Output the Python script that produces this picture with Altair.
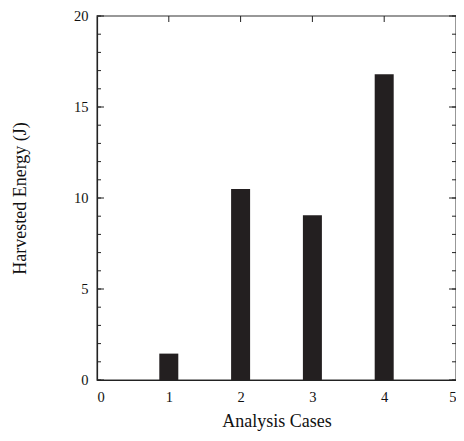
import altair as alt
import pandas as pd

cases = [1, 2, 3, 4]
energy = [1.45, 10.5, 9.05, 16.8]
x_tick_values = [0, 1, 2, 3, 4, 5]
y_tick_values = [0, 5, 10, 15, 20]
y_minor = list(range(0, 21))
x_inner_ticks = [1, 2, 3, 4]

FONT = "Liberation Serif"
W, H = 359, 364

bars_df = pd.DataFrame({"case": cases, "energy": energy})
ymaj_df = pd.DataFrame({"energy": y_tick_values})
ymin_df = pd.DataFrame({"energy": y_minor})
xt_df = pd.DataFrame({"case": x_inner_ticks})

xscale = alt.Scale(domain=[0, 5], nice=False, zero=False, padding=0)
yscale = alt.Scale(domain=[0, 20], nice=False, padding=0)
xaxis = alt.Axis(values=x_tick_values, ticks=False, grid=False, format="d",
                 title="Analysis Cases", labelPadding=10, titlePadding=9)
yaxis = alt.Axis(values=y_tick_values, ticks=False, grid=False, format="d",
                 title="Harvested Energy (J)", labelPadding=9, titlePadding=44)
X = alt.X("case:Q", scale=xscale, axis=xaxis)
Y = alt.Y("energy:Q", scale=yscale, axis=yaxis)

bars = alt.Chart(bars_df).mark_bar(size=19, color="#231f20").encode(x=X, y=Y)

tick_color = "#222"
left_major = alt.Chart(ymaj_df).mark_rule(color=tick_color, strokeWidth=1).encode(
    y=Y, x=alt.value(0), x2=alt.value(7))
right_major = alt.Chart(ymaj_df).mark_rule(color=tick_color, strokeWidth=1).encode(
    y=Y, x=alt.value(W), x2=alt.value(W - 7))
left_minor = alt.Chart(ymin_df).mark_rule(color=tick_color, strokeWidth=1).encode(
    y=Y, x=alt.value(0), x2=alt.value(4))
right_minor = alt.Chart(ymin_df).mark_rule(color=tick_color, strokeWidth=1).encode(
    y=Y, x=alt.value(W), x2=alt.value(W - 4))
top_ticks = alt.Chart(xt_df).mark_rule(color=tick_color, strokeWidth=1).encode(
    x=X, y=alt.value(0), y2=alt.value(6))
bottom_ticks = alt.Chart(xt_df).mark_rule(color=tick_color, strokeWidth=1).encode(
    x=X, y=alt.value(H), y2=alt.value(H - 6))

chart = alt.layer(
    bottom_ticks, bars, left_major, right_major, left_minor, right_minor, top_ticks
).properties(
    width=W, height=H,
    background="white",
    autosize=alt.AutoSizeParams(type="none"),
    padding={"left": 89, "top": 8, "right": 0, "bottom": 52},
).configure_view(
    stroke="#777", strokeWidth=1.5
).configure_axis(
    labelFont=FONT, titleFont=FONT, labelFontSize=14.5, titleFontSize=18,
    labelColor="#111", titleColor="#111", titleFontWeight="normal",
    domainColor="#222", domainWidth=1.2,
)

chart.save("out.html", embed_options={"renderer": "svg", "actions": False})
